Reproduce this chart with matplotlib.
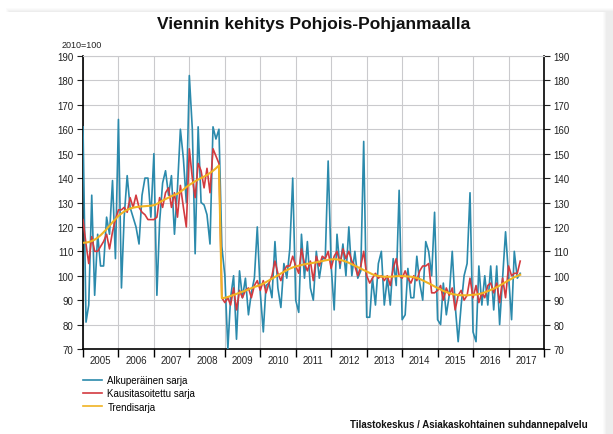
import matplotlib
matplotlib.use("Agg")
import matplotlib.pyplot as plt
import matplotlib.dates as mdates
from matplotlib.ticker import MultipleLocator, NullFormatter
from matplotlib.lines import Line2D
from matplotlib.patches import Rectangle
import pandas as pd

# ----------------------------
# DATA (monthly, 2005-01 .. 2017-05), 2010=100
# ----------------------------
start = "2005-01"

alkuperainen = [
    161, 81, 88, 133, 92, 117, 104, 104, 124, 117, 139, 107,      # 2005
    164, 95, 124, 141, 128, 124, 120, 113, 133, 140, 140, 124,    # 2006
    150, 92, 122, 138, 143, 133, 141, 117, 136, 160, 148, 130,    # 2007
    182, 160, 109, 161, 130, 129, 125, 113, 161, 156, 160, 112,   # 2008
    100, 70, 91, 100, 74, 102, 91, 99, 84, 93, 99, 120,           # 2009
    93, 77, 96, 97, 91, 114, 95, 87, 105, 99, 111, 140,           # 2010
    90, 85, 117, 99, 114, 95, 90, 110, 99, 107, 107, 147,         # 2011
    104, 86, 117, 103, 113, 100, 120, 100, 110, 99, 102, 155,     # 2012
    83, 83, 99, 88, 105, 110, 88, 99, 88, 107, 96, 135,           # 2013
    82, 84, 103, 91, 91, 108, 97, 90, 114, 110, 100, 126,         # 2014
    82, 80, 97, 84, 92, 110, 88, 73, 88, 100, 105, 134,           # 2015
    77, 73, 104, 88, 100, 88, 104, 86, 104, 80, 99, 118,          # 2016
    100, 82, 110, 99, 101,                                        # 2017
]

kausitasoitettu = [
    123, 113, 105, 116, 110, 110, 112, 114, 117, 111, 118, 123,
    127, 127, 128, 126, 132, 128, 133, 128, 126, 125, 123, 123,
    123, 124, 132, 128, 134, 136, 128, 134, 124, 137, 128, 120,
    152, 140, 132, 146, 143, 136, 144, 134, 152, 149, 146, 91,
    89, 91, 88, 95, 86, 94, 91, 94, 95, 91, 96, 98,
    94, 98, 93, 97, 100, 106, 101, 98, 102, 104, 104, 108,
    104, 101, 111, 105, 102, 106, 98, 108, 104, 108, 107, 110,
    103, 108, 110, 105, 111, 107, 110, 106, 104, 100, 104, 110,
    100, 97, 99, 101, 99, 100, 98, 100, 96, 103, 107, 100,
    99, 102, 99, 97, 100, 98, 102, 104, 104, 105, 93, 93,
    94, 96, 90, 95, 92, 95, 86, 92, 94, 90, 92, 99,
    91, 96, 89, 93, 91, 96, 97, 93, 97, 89, 99, 91,
    104, 100, 101, 101, 106,
]

trendi = [
    113.5, 113.6, 113.8, 114.2, 114.8, 115.6, 116.6, 117.8, 119.1, 120.5, 121.9, 123.2,
    124.5, 125.5, 126.3, 127.0, 127.5, 127.9, 128.1, 128.3, 128.4, 128.5, 128.6, 128.7,
    128.9, 129.4, 130.1, 130.8, 131.4, 132.0, 132.6, 133.1, 133.6, 134.4, 135.3, 136.3,
    137.2, 138.0, 138.7, 139.4, 140.0, 140.6, 141.3, 142.1, 143.0, 144.0, 145.2, 90.8,
    91.0, 91.3, 91.7, 92.1, 92.6, 93.0, 93.4, 93.9, 94.4, 94.9, 95.4, 95.8,
    96.2, 96.8, 97.4, 98.1, 98.8, 99.5, 100.2, 100.9, 101.6, 102.3, 102.9, 103.4,
    103.8, 104.1, 104.4, 104.7, 104.9, 105.1, 105.3, 105.5, 105.8, 106.0, 106.3, 106.5,
    106.7, 106.8, 106.7, 106.5, 106.2, 105.8, 105.3, 104.7, 104.1, 103.5, 102.9, 102.3,
    101.7, 101.1, 100.6, 100.2, 99.9, 99.7, 99.6, 99.6, 99.6, 99.7, 99.8, 99.9,
    99.9, 99.8, 99.7, 99.6, 99.4, 99.1, 98.7, 98.1, 97.5, 96.9, 96.3, 95.6,
    95.0, 94.4, 93.8, 93.3, 92.9, 92.5, 92.3, 92.1, 92.0, 92.0, 92.0, 92.1,
    92.2, 92.3, 92.5, 92.8, 93.2, 93.7, 94.2, 94.7, 95.3, 96.0, 96.7, 97.4,
    98.1, 98.8, 99.4, 99.9, 100.4,
]

labels = ["Alkuperäinen sarja", "Kausitasoitettu sarja", "Trendisarja"]
colors = ["#2b8aac", "#d33a3f", "#f0b323"]

title = "Viennin kehitys Pohjois-Pohjanmaalla"
unit = "2010=100"
source = "Tilastokeskus / Asiakaskohtainen suhdannepalvelu"

# ----------------------------
# PLOT
# ----------------------------
plt.rcParams["font.family"] = ["Liberation Sans", "DejaVu Sans"]

W, H = 613, 435
fig = plt.figure(figsize=(W / 100, H / 100), dpi=100)


def px_rect(x0, y0, x1, y1, color):
    # rectangle given in pixel coords (origin top-left)
    fig.add_artist(Rectangle((x0 / W, 1 - y1 / H), (x1 - x0) / W, (y1 - y0) / H,
                             transform=fig.transFigure, facecolor=color,
                             edgecolor="none", zorder=-10))


# faint shadow of the card: top edge and right edge
for i, c in enumerate(["#fbfbfb", "#f7f7f7", "#f2f2f2", "#ededed"]):
    px_rect(6 + i, 9 + i, 613, 13, c)
    px_rect(603 + i, 9 + i, 613 - (3 - i), 435, c)
px_rect(6, 13, 603, 435, "white")

# axes box in pixels: left 83, right 544, top 57, bottom 350
ax = fig.add_axes([83 / W, 1 - 350 / H, (544 - 83) / W, (350 - 57) / H])

dates = pd.date_range(start, periods=len(alkuperainen), freq="MS")
ax.plot(dates, alkuperainen, color=colors[0], lw=1.2, zorder=3)
ax.plot(dates, kausitasoitettu, color=colors[1], lw=1.2, zorder=4)
ax.plot(dates, trendi, color=colors[2], lw=1.5, zorder=5)

ax.set_ylim(70, 190)
ax.set_xlim(pd.Timestamp("2005-01-01"), pd.Timestamp("2018-01-01"))

ax.yaxis.set_major_locator(MultipleLocator(10))
ax.tick_params(axis="y", which="major", left=True, right=True,
               labelleft=True, labelright=True, direction="out",
               length=4, width=0.8, labelsize=7, pad=3, colors="#222222")

ax.xaxis.set_major_locator(mdates.YearLocator())
ax.xaxis.set_major_formatter(NullFormatter())
ax.xaxis.set_minor_locator(mdates.MonthLocator(bymonth=7))
ax.xaxis.set_minor_formatter(mdates.DateFormatter("%Y"))
ax.tick_params(axis="x", which="major", direction="out", length=6, width=1.0)
ax.tick_params(axis="x", which="minor", length=0, labelsize=7, pad=4,
               colors="#222222")

ax.grid(True, which="major", color="#cacacd", lw=0.8, zorder=0)
for side in ["left", "right", "bottom"]:
    ax.spines[side].set_color("black")
    ax.spines[side].set_linewidth(1.2)
ax.spines["top"].set_color("#cacacd")
ax.spines["top"].set_linewidth(0.8)

fig.text(0.511, 1 - 25 / H, title, ha="center", va="center",
         fontsize=12.5, fontweight="bold", color="#111111")
fig.text(62 / W, 1 - 46 / H, unit, ha="left", va="center", fontsize=6.5,
         color="#222222")

handles = [Line2D([], [], color=c, lw=1.2) for c in colors]
fig.legend(handles, labels, loc="upper left",
           bbox_to_anchor=(83 / W, 1 - 376 / H), frameon=False,
           fontsize=7, handlelength=2.0, handletextpad=0.5,
           labelspacing=0.35, borderaxespad=0, borderpad=0)

fig.text(588 / W, 1 - 425 / H, source, ha="right", va="center",
         fontsize=7, fontweight="bold", color="#111111")

fig.savefig("out.png", dpi=100)
